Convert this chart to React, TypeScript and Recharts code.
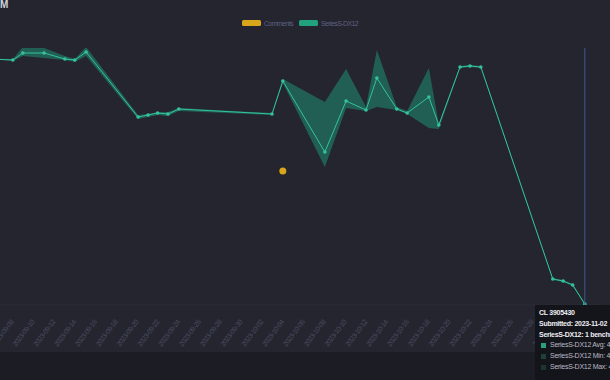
import { ComposedChart, Line, Area, Scatter, XAxis, YAxis, Tooltip, Legend } from 'recharts';

// submissions (UTC) and the benchmark values for SeriesS-DX12
const SUBMITTED = [
  '2023-09-06T00:00', '2023-09-08T02:00', '2023-09-09T01:00', '2023-09-11T02:00', '2023-09-13T02:00',
  '2023-09-14T01:00', '2023-09-15T03:00', '2023-09-20T03:00', '2023-09-21T02:00', '2023-09-22T00:00',
  '2023-09-23T00:00', '2023-09-24T01:00', '2023-10-03T00:00', '2023-10-04T01:00', '2023-10-08T02:00',
  '2023-10-10T03:00', '2023-10-12T01:00', '2023-10-13T02:00', '2023-10-15T00:00', '2023-10-16T00:00',
  '2023-10-18T02:00', '2023-10-19T01:00', '2023-10-21T02:00', '2023-10-22T01:00', '2023-10-23T02:00',
  '2023-10-30T00:00', '2023-10-31T00:00', '2023-10-31T22:00', '2023-11-02T02:00',
];
const AVG = [
  5.284, 5.28, 5.308, 5.308, 5.284, 5.28, 5.312, 5.052, 5.06, 5.068,
  5.064, 5.084, 5.064, 5.196, 4.912, 5.116, 5.08, 5.208, 5.084, 5.068,
  5.132, 5.02, 5.252, 5.256, 5.252, 4.404, 4.396, 4.38, 4.304,
];
const MIN = [
  5.284, 5.276, 5.296, 5.288, 5.28, 5.272, 5.296, 5.044, 5.052, 5.06,
  5.056, 5.076, 5.06, 5.188, 4.852, 5.088, 5.076, 5.092, 5.08, 5.064,
  5.008, 5.004, 5.248, 5.252, 5.248, 4.4, 4.392, 4.376, 4.3,
];
const MAX = [
  5.284, 5.284, 5.332, 5.328, 5.296, 5.284, 5.332, 5.06, 5.064, 5.072,
  5.072, 5.088, 5.068, 5.204, 5.112, 5.244, 5.092, 5.32, 5.092, 5.076,
  5.248, 5.024, 5.256, 5.26, 5.256, 4.408, 4.4, 4.384, 4.308,
];
const COMMENT_DATES = ['2023-10-04T01:00'];
const COMMENT_VALUES = [4.836];
const TICK_DATES = [
  '2023-09-08', '2023-09-10', '2023-09-12', '2023-09-14', '2023-09-16', '2023-09-18', '2023-09-20',
  '2023-09-22', '2023-09-24', '2023-09-26', '2023-09-28', '2023-09-30', '2023-10-02', '2023-10-04',
  '2023-10-06', '2023-10-08', '2023-10-10', '2023-10-12', '2023-10-14', '2023-10-16', '2023-10-18',
  '2023-10-20', '2023-10-22', '2023-10-24', '2023-10-26', '2023-10-28', '2023-10-30', '2023-11-01',
  '2023-11-03',
];
const X_RANGE = ['2023-09-06T20:18', '2023-11-03T13:00'];
const CL_ID = '3905430';

const toMs = (s: string) => Date.parse((s.length === 10 ? s + 'T00:00' : s) + ':00Z');
const fmtDate = (ms: number) => new Date(ms).toISOString().slice(0, 10);

const rows = SUBMITTED.map((d, i) => ({ t: toMs(d), avg: AVG[i], band: [MIN[i], MAX[i]] }));
const comments = COMMENT_DATES.map((d, i) => ({ t: toMs(d), v: COMMENT_VALUES[i] }));

const FONT = "'Liberation Sans', Arial, sans-serif";
const TEAL = '#34c29e';
const YELLOW = '#d8a61a';

const DateTick = ({ x, y, payload }: any) => (
  <text
    x={x + 2}
    y={y + 9}
    transform={`rotate(-53, ${x + 2}, ${y + 9})`}
    textAnchor="end"
    fontSize={7}
    letterSpacing={-0.45}
    fontFamily={FONT}
    fill="#484c60"
  >
    {fmtDate(payload.value)}
  </text>
);

const LegendBox = () => (
  <div style={{ display: 'flex', justifyContent: 'center', alignItems: 'center', gap: 6, fontFamily: FONT, fontSize: 7, letterSpacing: -0.6, color: '#5d6180', height: 20 }}>
    {[['Comments', YELLOW], ['SeriesS-DX12', '#22a17f']].map(([name, c]) => (
      <span key={name} style={{ display: 'flex', alignItems: 'center', gap: 3 }}>
        <span style={{ width: 19, height: 6, background: c, borderRadius: 1.5, display: 'inline-block' }} />
        {name}
      </span>
    ))}
  </div>
);

const TipBox = () => {
  const last = SUBMITTED.length - 1;
  const lines: [string, string, number][] = [
    ['Avg', '#2a9f7e', AVG[last]],
    ['Min', '#1f4037', MIN[last]],
    ['Max', '#1b352f', MAX[last]],
  ];
  return (
    <div style={{ background: '#14141b', padding: '3px 4px', width: 130, height: 75, boxSizing: 'border-box', fontFamily: FONT, fontSize: 7, letterSpacing: -0.28, lineHeight: '10.8px', color: '#eeeef2', whiteSpace: 'nowrap' }}>
      <div style={{ fontWeight: 700 }}>CL {CL_ID}</div>
      <div style={{ fontWeight: 700 }}>Submitted: {SUBMITTED[last].slice(0, 10)}</div>
      <div style={{ fontWeight: 700 }}>SeriesS-DX12: 1 benchmark</div>
      {lines.map(([k, c, v]) => (
        <div key={k} style={{ display: 'flex', alignItems: 'center', paddingLeft: 2, color: '#b9bac4' }}>
          <span style={{ width: 5, height: 5, background: c, marginRight: 4, display: 'inline-block' }} />
          SeriesS-DX12 {k}: {v.toFixed(3)}
        </div>
      ))}
    </div>
  );
};

export default function App() {
  return (
    <div style={{ position: 'fixed', top: 0, left: 0, width: 610, height: 380, overflow: 'hidden', background: '#25252f' }}>
      <div style={{ position: 'absolute', left: 0, top: 352, width: 610, height: 28, background: '#1c1c25' }} />
      <div style={{ position: 'absolute', left: 0, top: 0, fontFamily: FONT, fontSize: 10, fontWeight: 700, lineHeight: '10px', color: '#d2d2da' }}>M</div>
      <div style={{ position: 'absolute', left: 0, top: 0 }}>
        <ComposedChart width={610} height={380} data={rows} margin={{ top: 28, right: 10, left: 0, bottom: 28 }}>
          <XAxis
            dataKey="t"
            type="number"
            scale="linear"
            domain={X_RANGE.map(toMs)}
            allowDataOverflow
            ticks={TICK_DATES.map(toMs)}
            interval={0}
            tick={<DateTick />}
            tickLine={false}
            axisLine={{ stroke: '#2c2c38' }}
            height={47}
          />
          <YAxis hide domain={[4.3, 5.328]} allowDataOverflow />
          <Legend verticalAlign="top" height={20} wrapperStyle={{ top: 13 }} content={<LegendBox />} />
          <Tooltip
            defaultIndex={SUBMITTED.length - 1}
            active
            position={{ x: 535, y: 305 }}
            allowEscapeViewBox={{ x: true, y: true }}
            cursor={{ stroke: '#3b5b8f', strokeWidth: 1 }}
            content={<TipBox />}
            isAnimationActive={false}
          />
          <Area
            dataKey="band"
            stroke="none"
            fill="#1f8f73"
            fillOpacity={0.55}
            isAnimationActive={false}
            activeDot={false}
          />
          <Line
            dataKey="avg"
            stroke={TEAL}
            strokeWidth={1}
            dot={{ r: 1.8, fill: TEAL, stroke: 'none' }}
            activeDot={{ r: 2.2, fill: TEAL, stroke: 'none' }}
            isAnimationActive={false}
          />
          <Scatter data={comments} dataKey="v" fill={YELLOW} shape={(p: any) => <circle cx={p.cx} cy={p.cy} r={3.5} fill={YELLOW} />} isAnimationActive={false} />
        </ComposedChart>
      </div>
    </div>
  );
}
